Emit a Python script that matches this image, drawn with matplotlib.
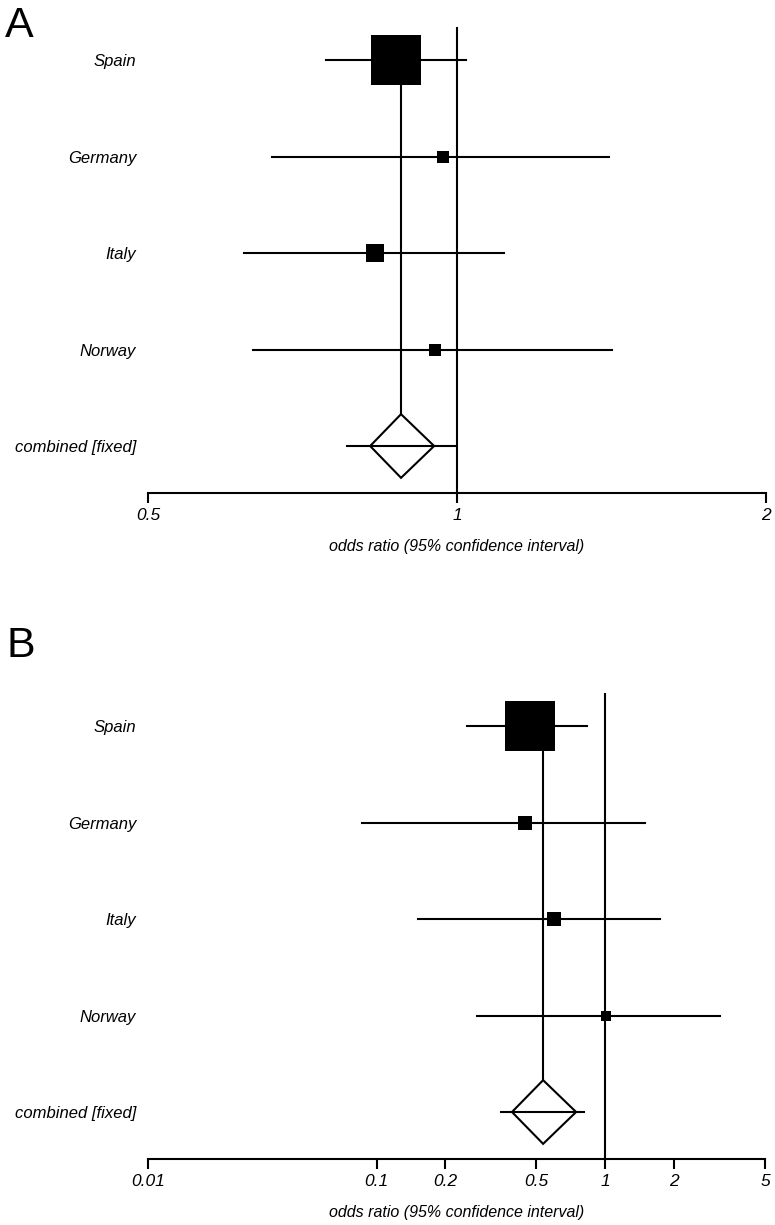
import numpy as np
import matplotlib
matplotlib.use('Agg')
import matplotlib.pyplot as plt
from matplotlib.patches import Polygon

plt.rcParams['font.family'] = ['Liberation Sans', 'DejaVu Sans']

studies = ['Spain', 'Germany', 'Italy', 'Norway']
pooled_label = 'combined [fixed]'

# panel A
or_a = [0.872, 0.969, 0.832, 0.952]
lo_a = [0.745, 0.660, 0.620, 0.633]
hi_a = [1.020, 1.406, 1.111, 1.416]
weight_a = [81.5, 4.0, 10.6, 4.0]
pooled_a = [0.882, 0.823, 0.950]      # estimate, diamond low, diamond high
pooled_line_a = [0.781, 0.995]
ticks_a = [0.5, 1, 2]
ticklabels_a = ['0.5', '1', '2']

# panel B
or_b = [0.467, 0.446, 0.597, 1.01]
lo_b = [0.248, 0.086, 0.151, 0.275]
hi_b = [0.834, 1.50, 1.74, 3.19]
weight_b = [83.6, 6.5, 6.5, 3.3]
pooled_b = [0.535, 0.391, 0.746]
pooled_line_b = [0.350, 0.809]
ticks_b = [0.01, 0.1, 0.2, 0.5, 1, 2, 5]
ticklabels_b = ['0.01', '0.1', '0.2', '0.5', '1', '2', '5']

W, H = 775, 1225
fig = plt.figure(figsize=(W / 100, H / 100), dpi=100)
px = 0.72  # points per pixel
lw = 1.5


def forest(ax, est, lo, hi, weight, pooled, pooled_line, ticks, ticklabels):
    n = len(est)
    ys = np.arange(n, 0, -1)       # studies from top, pooled at 0
    half_h = 0.33                  # diamond half height (row units)

    ax.set_xscale('log')
    ax.set_xlim(ticks[0], ticks[-1])
    ax.set_ylim(-0.487, n + 0.342)

    # line of no effect
    ax.axvline(1, color='black', lw=lw, zorder=1)
    # pooled estimate line
    ax.plot([pooled[0], pooled[0]], [ys[0], half_h], color='black', lw=lw, zorder=1)

    wmax = max(weight)
    for y, e, l, h, w in zip(ys, est, lo, hi, weight):
        ax.plot([l, h], [y, y], color='black', lw=lw, zorder=2)
        side = 50 * np.sqrt(w / wmax) * px
        ax.plot(e, y, 's', color='black', ms=side, mew=0, zorder=3)

    # diamond
    e, dl, dh = pooled
    diamond = Polygon([(dl, 0), (e, half_h), (dh, 0), (e, -half_h)], closed=True,
                      facecolor='white', edgecolor='black', lw=lw, zorder=3)
    ax.add_patch(diamond)
    ax.plot(pooled_line, [0, 0], color='black', lw=lw, zorder=4)

    ax.set_yticks(list(ys) + [0])
    ax.set_yticklabels(studies + [pooled_label], fontsize=12, style='italic')
    ax.tick_params(axis='y', length=0, pad=8.5)

    ax.set_xticks(ticks)
    ax.set_xticklabels(ticklabels, fontsize=12.5, style='italic')
    ax.minorticks_off()
    ax.tick_params(axis='x', direction='out', length=7.5, width=lw, pad=3)
    ax.set_xlabel('odds ratio (95% confidence interval)', fontsize=11.5,
                  style='italic', labelpad=11.5)

    for s in ['top', 'right', 'left']:
        ax.spines[s].set_visible(False)
    ax.spines['bottom'].set_linewidth(lw)


left = 148 / W
ax_a = fig.add_axes([left, (H - 493) / H, (766 - 148) / W, 466 / H])
forest(ax_a, or_a, lo_a, hi_a, weight_a, pooled_a, pooled_line_a, ticks_a, ticklabels_a)

ax_b = fig.add_axes([left, (H - 1159) / H, (765 - 148) / W, 466 / H])
forest(ax_b, or_b, lo_b, hi_b, weight_b, pooled_b, pooled_line_b, ticks_b, ticklabels_b)

fig.text(5 / W, 1 - 6 / H, 'A', fontsize=31, va='top', ha='left')
fig.text(6 / W, 1 - 626 / H, 'B', fontsize=31, va='top', ha='left')

fig.savefig('out.png', dpi=100)
